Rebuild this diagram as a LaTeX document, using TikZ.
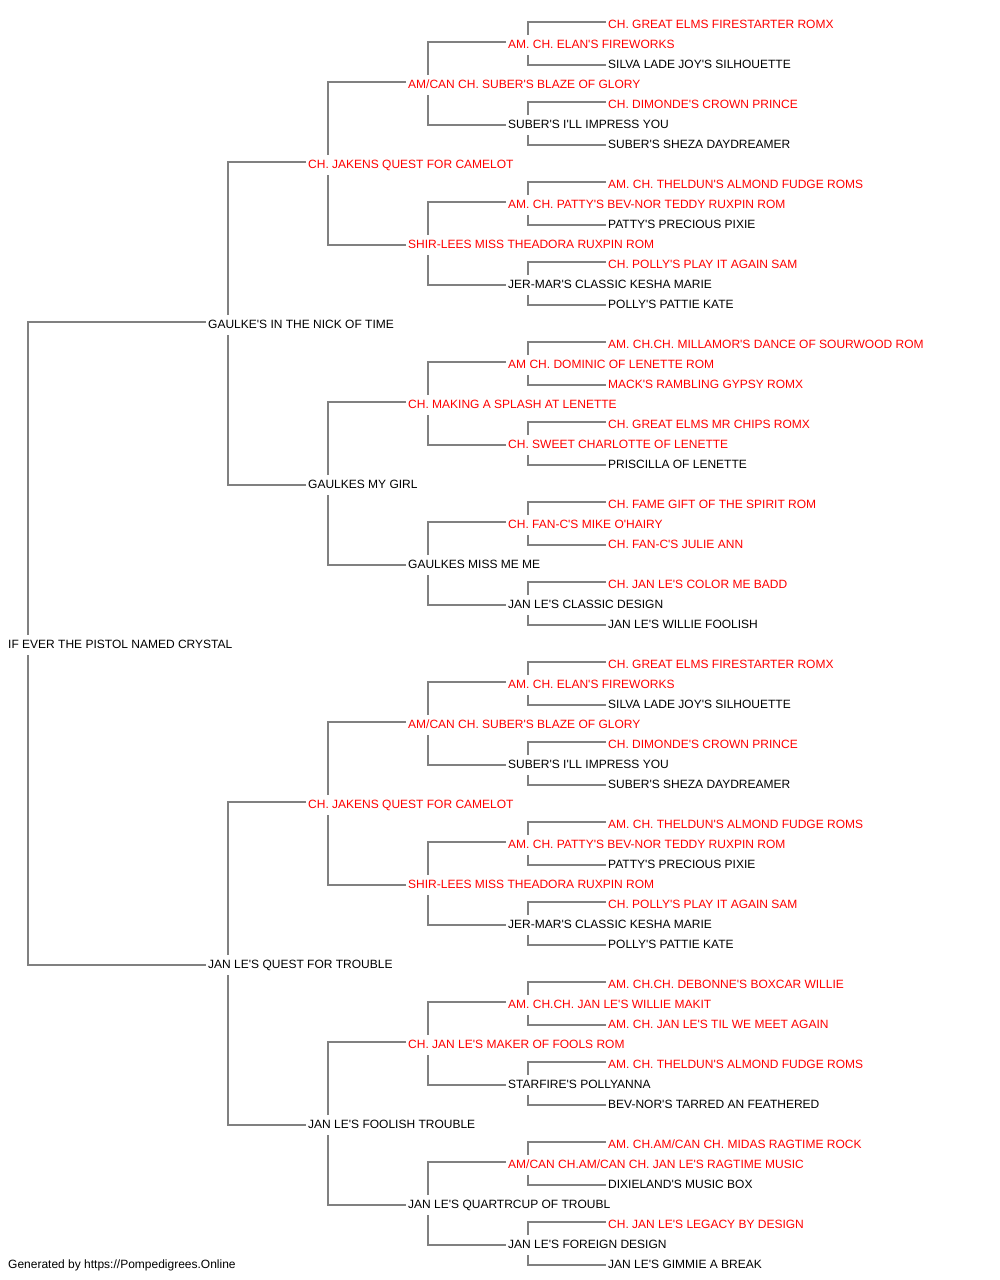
\documentclass[tikz,border=0pt]{standalone}
\usepackage{fontspec}
\newfontfamily\pedfont{Liberation Sans}
\definecolor{pedred}{RGB}{255,0,0}
\definecolor{pedline}{RGB}{128,128,128}
\tikzset{
  pn/.style={anchor=west, yshift=-2pt, inner xsep=0pt, inner ysep=0pt,
    text height=12.8pt, text depth=6.2pt, font=\pedfont\fontsize{12}{14}\selectfont, text=black},
  pr/.style={pn, text=pedred},
  con/.style={draw=pedline, line width=2pt}
}
\begin{document}
\begin{tikzpicture}[x=1pt,y=-1pt]
\useasboundingbox (0,0) rectangle (1000,1280);
% generation 0
\node[pn] (r) at (8,643) {IF EVER THE PISTOL NAMED CRYSTAL};
% generation 1
\node[pn] (r0) at (208,323) {GAULKE'S IN THE NICK OF TIME};
\node[pn] (r1) at (208,963) {JAN LE'S QUEST FOR TROUBLE};
% generation 2
\node[pr] (r00) at (308,163) {CH. JAKENS QUEST FOR CAMELOT};
\node[pn] (r01) at (308,483) {GAULKES MY GIRL};
\node[pr] (r10) at (308,803) {CH. JAKENS QUEST FOR CAMELOT};
\node[pn] (r11) at (308,1123) {JAN LE'S FOOLISH TROUBLE};
% generation 3
\node[pr] (r000) at (408,83) {AM/CAN CH. SUBER'S BLAZE OF GLORY};
\node[pr] (r001) at (408,243) {SHIR-LEES MISS THEADORA RUXPIN ROM};
\node[pr] (r010) at (408,403) {CH. MAKING A SPLASH AT LENETTE};
\node[pn] (r011) at (408,563) {GAULKES MISS ME ME};
\node[pr] (r100) at (408,723) {AM/CAN CH. SUBER'S BLAZE OF GLORY};
\node[pr] (r101) at (408,883) {SHIR-LEES MISS THEADORA RUXPIN ROM};
\node[pr] (r110) at (408,1043) {CH. JAN LE'S MAKER OF FOOLS ROM};
\node[pn] (r111) at (408,1203) {JAN LE'S QUARTRCUP OF TROUBL};
% generation 4
\node[pr] (r0000) at (508,43) {AM. CH. ELAN'S FIREWORKS};
\node[pn] (r0001) at (508,123) {SUBER'S I'LL IMPRESS YOU};
\node[pr] (r0010) at (508,203) {AM. CH. PATTY'S BEV-NOR TEDDY RUXPIN ROM};
\node[pn] (r0011) at (508,283) {JER-MAR'S CLASSIC KESHA MARIE};
\node[pr] (r0100) at (508,363) {AM CH. DOMINIC OF LENETTE ROM};
\node[pr] (r0101) at (508,443) {CH. SWEET CHARLOTTE OF LENETTE};
\node[pr] (r0110) at (508,523) {CH. FAN-C'S MIKE O'HAIRY};
\node[pn] (r0111) at (508,603) {JAN LE'S CLASSIC DESIGN};
\node[pr] (r1000) at (508,683) {AM. CH. ELAN'S FIREWORKS};
\node[pn] (r1001) at (508,763) {SUBER'S I'LL IMPRESS YOU};
\node[pr] (r1010) at (508,843) {AM. CH. PATTY'S BEV-NOR TEDDY RUXPIN ROM};
\node[pn] (r1011) at (508,923) {JER-MAR'S CLASSIC KESHA MARIE};
\node[pr] (r1100) at (508,1003) {AM. CH.CH. JAN LE'S WILLIE MAKIT};
\node[pn] (r1101) at (508,1083) {STARFIRE'S POLLYANNA};
\node[pr] (r1110) at (508,1163) {AM/CAN CH.AM/CAN CH. JAN LE'S RAGTIME MUSIC};
\node[pn] (r1111) at (508,1243) {JAN LE'S FOREIGN DESIGN};
% generation 5
\node[pr] (r00000) at (608,23) {CH. GREAT ELMS FIRESTARTER ROMX};
\node[pn] (r00001) at (608,63) {SILVA LADE JOY'S SILHOUETTE};
\node[pr] (r00010) at (608,103) {CH. DIMONDE'S CROWN PRINCE};
\node[pn] (r00011) at (608,143) {SUBER'S SHEZA DAYDREAMER};
\node[pr] (r00100) at (608,183) {AM. CH. THELDUN'S ALMOND FUDGE ROMS};
\node[pn] (r00101) at (608,223) {PATTY'S PRECIOUS PIXIE};
\node[pr] (r00110) at (608,263) {CH. POLLY'S PLAY IT AGAIN SAM};
\node[pn] (r00111) at (608,303) {POLLY'S PATTIE KATE};
\node[pr] (r01000) at (608,343) {AM. CH.CH. MILLAMOR'S DANCE OF SOURWOOD ROM};
\node[pr] (r01001) at (608,383) {MACK'S RAMBLING GYPSY ROMX};
\node[pr] (r01010) at (608,423) {CH. GREAT ELMS MR CHIPS ROMX};
\node[pn] (r01011) at (608,463) {PRISCILLA OF LENETTE};
\node[pr] (r01100) at (608,503) {CH. FAME GIFT OF THE SPIRIT ROM};
\node[pr] (r01101) at (608,543) {CH. FAN-C'S JULIE ANN};
\node[pr] (r01110) at (608,583) {CH. JAN LE'S COLOR ME BADD};
\node[pn] (r01111) at (608,623) {JAN LE'S WILLIE FOOLISH};
\node[pr] (r10000) at (608,663) {CH. GREAT ELMS FIRESTARTER ROMX};
\node[pn] (r10001) at (608,703) {SILVA LADE JOY'S SILHOUETTE};
\node[pr] (r10010) at (608,743) {CH. DIMONDE'S CROWN PRINCE};
\node[pn] (r10011) at (608,783) {SUBER'S SHEZA DAYDREAMER};
\node[pr] (r10100) at (608,823) {AM. CH. THELDUN'S ALMOND FUDGE ROMS};
\node[pn] (r10101) at (608,863) {PATTY'S PRECIOUS PIXIE};
\node[pr] (r10110) at (608,903) {CH. POLLY'S PLAY IT AGAIN SAM};
\node[pn] (r10111) at (608,943) {POLLY'S PATTIE KATE};
\node[pr] (r11000) at (608,983) {AM. CH.CH. DEBONNE'S BOXCAR WILLIE};
\node[pr] (r11001) at (608,1023) {AM. CH. JAN LE'S TIL WE MEET AGAIN};
\node[pr] (r11010) at (608,1063) {AM. CH. THELDUN'S ALMOND FUDGE ROMS};
\node[pn] (r11011) at (608,1103) {BEV-NOR'S TARRED AN FEATHERED};
\node[pr] (r11100) at (608,1143) {AM. CH.AM/CAN CH. MIDAS RAGTIME ROCK};
\node[pn] (r11101) at (608,1183) {DIXIELAND'S MUSIC BOX};
\node[pr] (r11110) at (608,1223) {CH. JAN LE'S LEGACY BY DESIGN};
\node[pn] (r11111) at (608,1263) {JAN LE'S GIMMIE A BREAK};
% footer
\node[pn] (foot) at (8,1263) {Generated by https://Pompedigrees.Online};
% connectors
\foreach \p in {r,r0,r1,r00,r01,r10,r11,r000,r001,r010,r011,r100,r101,r110,r111,
  r0000,r0001,r0010,r0011,r0100,r0101,r0110,r0111,r1000,r1001,r1010,r1011,r1100,r1101,r1110,r1111}{
  \draw[con] ([shift={(-2pt,3.5pt)}]\p0.west) -| ([xshift=20pt]\p.north west);
  \draw[con] ([shift={(-2pt,0.5pt)}]\p1.west) -| ([xshift=20pt]\p.south west);
}
\end{tikzpicture}
\end{document}
